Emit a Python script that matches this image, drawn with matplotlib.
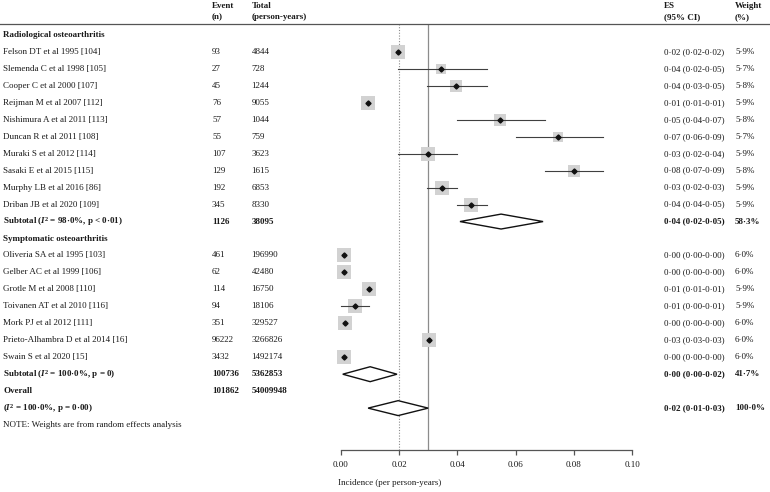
import matplotlib.pyplot as plt
import matplotlib.transforms as mtransforms
from matplotlib.patches import Polygon

plt.rcParams['font.family'] = ['Liberation Serif', 'DejaVu Serif']
plt.rcParams['mathtext.fontset'] = 'custom'
plt.rcParams['mathtext.rm'] = 'Liberation Serif'
plt.rcParams['mathtext.it'] = 'Liberation Serif:italic'
plt.rcParams['mathtext.bf'] = 'Liberation Serif:bold'
plt.rcParams['mathtext.bfit'] = 'Liberation Serif:italic:bold'

# --- данные ---
radio_names = ['Felson DT et al 1995 [104]', 'Slemenda C et al 1998 [105]',
               'Cooper C et al 2000 [107]', 'Reijman M et al 2007 [112]',
               'Nishimura A et al 2011 [113]', 'Duncan R et al 2011 [108]',
               'Muraki S et al 2012 [114]', 'Sasaki E et al 2015 [115]',
               'Murphy LB et al 2016 [86]', 'Driban JB et al 2020 [109]']
radio_events = ['93', '27', '45', '76', '57', '55', '107', '129', '192', '345']
radio_totals = ['4844', '728', '1244', '9055', '1044', '759', '3623', '1615', '6853', '8330']
radio_es = [0.0197, 0.0344, 0.0397, 0.0094, 0.0546, 0.0746, 0.0298, 0.0801, 0.0348, 0.0447]
radio_lo = [0.0197, 0.0197, 0.0297, 0.0094, 0.0399, 0.0600, 0.0197, 0.0701, 0.0297, 0.0399]
radio_hi = [0.0197, 0.0500, 0.0500, 0.0094, 0.0700, 0.0900, 0.0399, 0.0901, 0.0399, 0.0500]
radio_labels = ['0·02 (0·02-0·02)', '0·04 (0·02-0·05)', '0·04 (0·03-0·05)', '0·01 (0·01-0·01)',
                '0·05 (0·04-0·07)', '0·07 (0·06-0·09)', '0·03 (0·02-0·04)', '0·08 (0·07-0·09)',
                '0·03 (0·02-0·03)', '0·04 (0·04-0·05)']
radio_weights = [5.9, 5.7, 5.8, 5.9, 5.8, 5.7, 5.9, 5.8, 5.9, 5.9]

sympt_names = ['Oliveria SA et al 1995 [103]', 'Gelber AC et al 1999 [106]',
               'Grotle M et al 2008 [110]', 'Toivanen AT et al 2010 [116]',
               'Mork PJ et al 2012 [111]', 'Prieto-Alhambra D et al 2014 [16]',
               'Swain S et al 2020 [15]']
sympt_events = ['461', '62', '114', '94', '351', '96222', '3432']
sympt_totals = ['196990', '42480', '16750', '18106', '329527', '3266826', '1492174']
sympt_es = [0.0013, 0.0013, 0.0097, 0.0049, 0.0015, 0.0303, 0.0013]
sympt_lo = [0.0013, 0.0013, 0.0097, 0.0000, 0.0015, 0.0303, 0.0013]
sympt_hi = [0.0013, 0.0013, 0.0097, 0.0097, 0.0015, 0.0303, 0.0013]
sympt_labels = ['0·00 (0·00-0·00)', '0·00 (0·00-0·00)', '0·01 (0·01-0·01)', '0·01 (0·00-0·01)',
                '0·00 (0·00-0·00)', '0·03 (0·03-0·03)', '0·00 (0·00-0·00)']
sympt_weights = [6.0, 6.0, 5.9, 5.9, 6.0, 6.0, 6.0]

# сводные ромбы: (нижняя граница, центр, верхняя граница)
radio_sub = (0.0409, 0.0550, 0.0694)
sympt_sub = (0.0007, 0.0101, 0.0193)
overall = (0.0094, 0.0197, 0.0300)

x_ticks = [0.00, 0.02, 0.04, 0.06, 0.08, 0.10]
ref_solid = 0.03
ref_dotted = 0.02

# --- разметка в пикселях ---
W, H = 770, 492
fig = plt.figure(figsize=(W / 100, H / 100), dpi=100)
x0_px, x1_px = 340.7, 632.3
axis_px, head_px = 450, 24
row0_px, row_step = 35, 16.96
ax = fig.add_axes([x0_px / W, 1 - axis_px / H, (x1_px - x0_px) / W, (axis_px - head_px) / H])
ax.set_xlim(0, 0.10)
ax.set_ylim((axis_px - row0_px) / row_step, -(row0_px - head_px) / row_step)

txt = mtransforms.blended_transform_factory(fig.transFigure, ax.transData)
fs = 6.5
tc = '#1a1a1a'
col_name, col_ev, col_tot, col_es, col_w = 3 / W, 212 / W, 251.5 / W, 664 / W, 735 / W


def row_text(y, cells, bold=False):
    for xpos, s in zip((col_name, col_ev, col_tot, col_es, col_w), cells):
        if s:
            ax.text(xpos, y, s, transform=txt, fontsize=fs, color=tc, va='center',
                    ha='left', fontweight='bold' if bold else 'normal', clip_on=False)


def box_size(w):
    # ширина квадрата в пикселях зависит от веса
    return 10.7 + (w - 5.7) * 14.3


def study(y, name, ev, tot, es, lo, hi, lab, w):
    row_text(y, [name, ev, tot, lab, f'{w:.1f}%'.replace('.', '·')])
    side = box_size(w) * 0.72
    ax.scatter([es], [y], marker='s', s=side ** 2, color='#d2d2d2', linewidths=0,
               zorder=3, clip_on=False)
    if hi > lo:
        ax.plot([lo, hi], [y, y], color='#404040', lw=0.8, zorder=4, clip_on=False)
    ax.plot([es], [y], marker='D', ms=2.6, color='#111111', zorder=5, clip_on=False)


def diamond(y, lo, mid, hi):
    h = 0.44
    ax.add_patch(Polygon([(lo, y), (mid, y - h), (hi, y), (mid, y + h)], closed=True,
                         facecolor='white', edgecolor='#111111', lw=1.0, zorder=4,
                         clip_on=False))


row = 0
row_text(row, ['Radiological osteoarthritis'], bold=True)
for i in range(len(radio_names)):
    row += 1
    study(row, radio_names[i], radio_events[i], radio_totals[i], radio_es[i],
          radio_lo[i], radio_hi[i], radio_labels[i], radio_weights[i])
row += 1
row_text(row, [r'Subtotal ($\mathbfit{I}^{\mathbf{2}}$ = 98·0%, p < 0·01)', '1126', '38095',
               '0·04 (0·02-0·05)', '58·3%'], bold=True)
diamond(row, *radio_sub)
row += 1
row_text(row, ['Symptomatic osteoarthritis'], bold=True)
for i in range(len(sympt_names)):
    row += 1
    study(row, sympt_names[i], sympt_events[i], sympt_totals[i], sympt_es[i],
          sympt_lo[i], sympt_hi[i], sympt_labels[i], sympt_weights[i])
row += 1
row_text(row, [r'Subtotal ($\mathbfit{I}^{\mathbf{2}}$ = 100·0%, p = 0)', '100736', '5362853',
               '0·00 (0·00-0·02)', '41·7%'], bold=True)
diamond(row, *sympt_sub)
row += 1
row_text(row, ['Overall', '101862', '54009948'], bold=True)
row += 1
row_text(row, [r'($\mathbfit{I}^{\mathbf{2}}$ = 100·0%, p = 0·00)', '', '',
               '0·02 (0·01-0·03)', '100·0%'], bold=True)
diamond(row, *overall)
row += 1
row_text(row, ['NOTE: Weights are from random effects analysis'])

# опорные вертикальные линии
ax.axvline(ref_solid, color='#8c8c8c', lw=0.9, zorder=1)
ax.axvline(ref_dotted, color='#8c8c8c', lw=0.8, ls=(0, (1, 1.5)), zorder=1)

# заголовок таблицы
hy1, hy2 = 1 - 5.5 / H, 1 - 17 / H
for xpos, a, b in ((col_ev, 'Event', '(n)'), (col_tot, 'Total', '(person-years)'),
                   (col_es, 'ES', '(95% CI)'), (col_w, 'Weight', '(%)')):
    fig.text(xpos, hy1, a, fontsize=fs, fontweight='bold', color=tc, va='center')
    fig.text(xpos, hy2, b, fontsize=fs, fontweight='bold', color=tc, va='center')
fig.add_artist(plt.Line2D([0, 1], [1 - 23.5 / H] * 2, color='#555555', lw=0.9,
                          transform=fig.transFigure))

# ось X
for sp in ('top', 'right', 'left'):
    ax.spines[sp].set_visible(False)
ax.spines['bottom'].set_color('#555555')
ax.spines['bottom'].set_linewidth(0.9)
ax.set_yticks([])
ax.set_xticks(x_ticks)
ax.set_xticklabels([f'{t:.2f}' for t in x_ticks])
ax.tick_params(axis='x', length=3.8, width=0.9, color='#555555', labelsize=fs,
               labelcolor=tc, pad=4)
fig.text(338 / W, 1 - 483 / H, 'Incidence (per person-years)', fontsize=fs, color=tc,
         va='center', ha='left')

plt.savefig('out.png', dpi=100)
